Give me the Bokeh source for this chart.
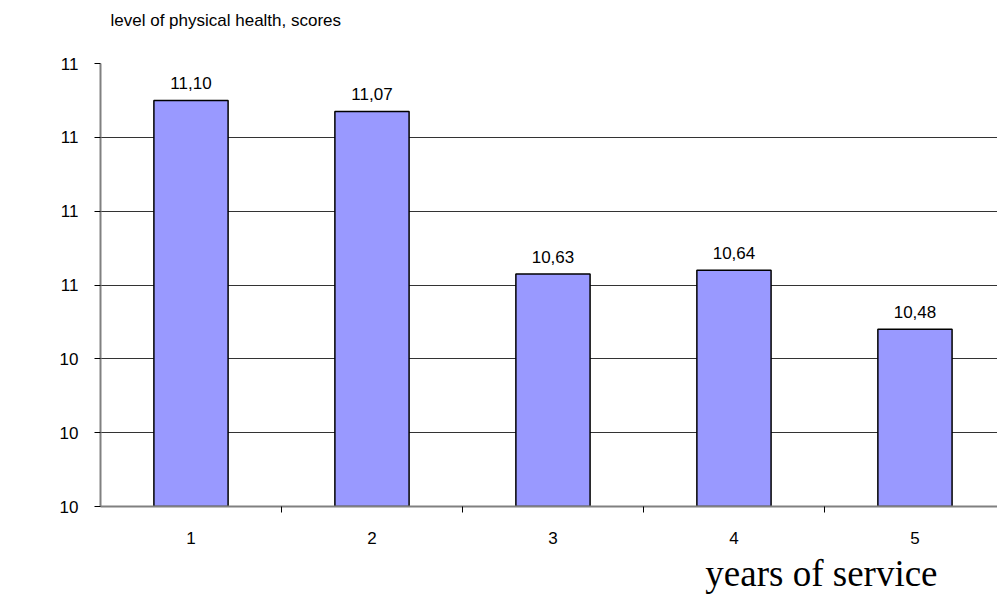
from bokeh.plotting import figure
from bokeh.layouts import column
from bokeh.models import ColumnDataSource, FixedTicker, PrintfTickFormatter, Title, Range1d, Label
from bokeh.core.properties import value
from bokeh.embed import file_html
from bokeh.resources import INLINE

categories = [1, 2, 3, 4, 5]
values = [11.10, 11.07, 10.63, 10.64, 10.48]
value_labels = ["11,10", "11,07", "10,63", "10,64", "10,48"]
y_ticks = [10.0, 10.2, 10.4, 10.6, 10.8, 11.0, 11.2]
x_boundaries = [1.5, 2.5, 3.5, 4.5]

src = ColumnDataSource(dict(x=categories, top=values, lab=value_labels))

font = "Liberation Sans"

# header strip holding the chart's caption
head = figure(width=997, height=40, output_backend="svg", toolbar_location=None,
              x_range=Range1d(0, 1), y_range=Range1d(0, 1),
              x_axis_location=None, y_axis_location=None,
              min_border_left=0, min_border_right=0, min_border_top=0, min_border_bottom=0)
head.grid.visible = False
head.outline_line_color = None
head.add_layout(Label(x=10, y=20, x_units="screen", y_units="screen",
                      text="level of physical health, scores", text_font=font,
                      text_font_size="17px", text_color="black", text_baseline="middle"))

p = figure(width=997, height=561, output_backend="svg", toolbar_location=None,
           x_range=Range1d(0.5, 5.456), y_range=Range1d(10.0, 11.2),
           min_border_left=100, min_border_right=0, min_border_top=23, min_border_bottom=95)
p.outline_line_color = None
p.background_fill_color = "white"

p.vbar(x="x", top="top", bottom=10.0, width=0.41, source=src,
       fill_color="#9999FF", line_color="black", line_width=1.5)
p.text(x="x", y="top", text="lab", source=src, text_align="center", text_baseline="alphabetic",
       y_offset=-17, text_font=value(font), text_font_size="17px", text_color="black")

p.xgrid.visible = False
p.ygrid.ticker = FixedTicker(ticks=y_ticks)
p.ygrid.grid_line_color = "#333333"
p.ygrid.grid_line_width = 1

p.yaxis.ticker = FixedTicker(ticks=y_ticks)
p.yaxis.formatter = PrintfTickFormatter(format="%.0f")
p.yaxis.axis_line_color = "#808080"
p.yaxis.axis_line_width = 2
p.yaxis.major_tick_line_color = "black"
p.yaxis.major_tick_out = 6
p.yaxis.major_tick_in = 0
p.yaxis.minor_tick_line_color = None
p.yaxis.major_label_text_font = font
p.yaxis.major_label_text_font_size = "17px"
p.yaxis.major_label_text_color = "black"
p.yaxis.major_label_standoff = 16

p.xaxis.ticker = FixedTicker(ticks=categories, minor_ticks=x_boundaries)
p.xaxis.axis_line_color = "#808080"
p.xaxis.axis_line_width = 2
p.xaxis.major_tick_line_color = None
p.xaxis.minor_tick_line_color = "black"
p.xaxis.minor_tick_out = 6
p.xaxis.minor_tick_in = 0
p.xaxis.major_label_text_font = font
p.xaxis.major_label_text_font_size = "17px"
p.xaxis.major_label_text_color = "black"
p.xaxis.major_label_standoff = 19

p.add_layout(Title(text="years of service", align="right", offset=60,
                   text_font="Liberation Serif", text_font_size="37px", text_font_style="normal",
                   text_color="black", standoff=9), "below")

layout = column(head, p, spacing=0)
open("out.html", "w").write(file_html(layout, INLINE))
